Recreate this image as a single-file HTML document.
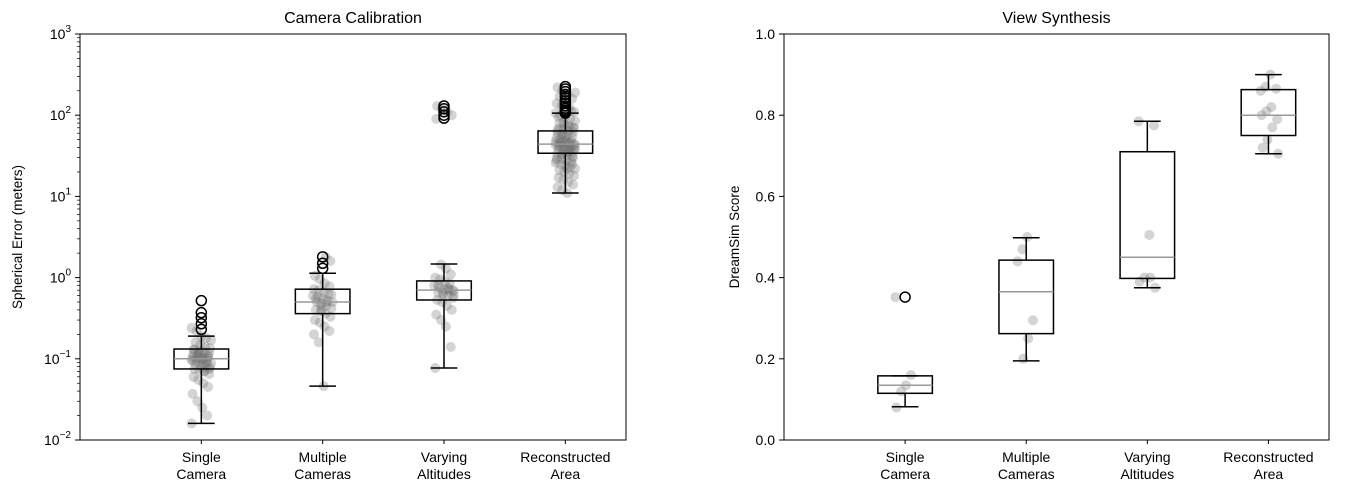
<!DOCTYPE html>
<html><head><meta charset="utf-8">
<style>
html,body{margin:0;padding:0;background:#fff;}
svg{display:block;font-family:"Liberation Sans","DejaVu Sans",sans-serif;}
</style></head>
<body>
<svg id="chart" width="1345" height="498" viewBox="0 0 1345 498" xmlns="http://www.w3.org/2000/svg"></svg>
<script>
const categories = ["Single|Camera","Multiple|Cameras","Varying|Altitudes","Reconstructed|Area"];
// Camera Calibration: [whiskerLow, q1, median, q3, whiskerHigh]
const calibStats = [[0.016,0.075,0.10,0.132,0.19],[0.046,0.36,0.50,0.72,1.13],[0.077,0.53,0.70,0.91,1.47],[11,34,44,64,106]];
const calibOutliers = [[0.52,0.37,0.32,0.27,0.23],[1.8,1.5,1.3],[130,120,110,100,92],[225,210,195,180,165,150,140,130,122,115,110,106]];
const calibPoints = [
 [0.016,0.02,0.025,0.03,0.037,0.045,0.05,0.055,0.06,0.065,0.07,0.072,0.075,0.078,0.08,0.082,0.085,0.088,0.09,0.092,0.095,0.097,0.1,0.1,0.102,0.105,0.108,0.11,0.112,0.115,0.118,0.12,0.125,0.13,0.135,0.14,0.15,0.16,0.17,0.18,0.19,0.22,0.24,0.09,0.1,0.11,0.095,0.105,0.085,0.12,0.13,0.075,0.07,0.115],
 [0.046,0.16,0.2,0.22,0.25,0.28,0.3,0.33,0.36,0.38,0.4,0.42,0.45,0.48,0.5,0.5,0.52,0.55,0.58,0.6,0.63,0.66,0.7,0.72,0.78,0.85,0.95,1.05,1.6,1.8,0.45,0.55,0.62,0.5,0.4],
 [0.077,0.14,0.25,0.3,0.35,0.4,0.45,0.5,0.53,0.56,0.6,0.62,0.65,0.68,0.7,0.72,0.75,0.8,0.85,0.9,0.95,1.0,1.1,1.3,1.45,90,100,110,120,130,0.7,0.75,0.65,0.8,0.6,0.72],
 [11,12,13,14,15,16,17,18,19,20,21,22,23,24,25,26,27,28,29,30,31,32,33,34,35,36,37,38,39,40,41,42,43,44,45,46,47,48,49,50,52,54,56,58,60,62,64,66,68,70,72,76,80,85,90,95,100,106,112,120,130,140,160,180,200,220,30,35,40,42,44,46,48,50,38,36,55,45,43,41,39,33,28,25,22,60,65,70,75,80,95,110,125,150,170,190]
];
// View Synthesis
const synthStats = [[0.082,0.115,0.135,0.158,0.158],[0.195,0.262,0.365,0.443,0.498],[0.375,0.398,0.45,0.71,0.785],[0.705,0.75,0.80,0.863,0.90]];
const synthOutliers = [[0.352],[],[],[]];
const synthPoints = [[0.352,0.16,0.135,0.12,0.08],[0.5,0.47,0.44,0.295,0.25,0.2],[0.785,0.775,0.505,0.40,0.39,0.375,0.40],[0.90,0.87,0.86,0.865,0.82,0.81,0.80,0.79,0.77,0.74,0.72,0.705]];
const logTicks = [-2,-1,0,1,2,3];
const linTicks = [0,0.2,0.4,0.6,0.8,1.0];

const NS="http://www.w3.org/2000/svg";
const svg=document.getElementById('chart');
function mk(tag,attrs,parent){const e=document.createElementNS(NS,tag);for(const k in attrs)e.setAttribute(k,attrs[k]);(parent||svg).appendChild(e);return e;}

function drawPanel(p){
  const g=mk('g',{});
  
  
  const L=p.x0,R=p.x1,T=34,B=440;
  const xs=v=>L+(v/4.5)*(R-L);
  const ys=p.ys;
  const ux=(R-L)/4.5;
  p.points.forEach((arr,ci)=>{
    arr.forEach((v,i)=>{
      const off=(((i*37+ci*11)%21)-10)/10*0.08;
      const c=mk('circle',{cx:xs(ci+1+off),cy:ys(v),r:5,fill:'#707070','fill-opacity':0.3},g);
      
      
    });
  });
  p.stats.forEach((s,ci)=>{
    const cx=xs(ci+1),hw=0.225*ux,cw=0.11*ux;
    const bg=mk('g',{stroke:'#000','stroke-width':1.5,fill:'none'},g);
    
    
    mk('rect',{x:cx-hw,y:ys(s[3]),width:2*hw,height:ys(s[1])-ys(s[3])},bg);
    mk('line',{x1:cx,x2:cx,y1:ys(s[1]),y2:ys(s[0])},bg);
    mk('line',{x1:cx,x2:cx,y1:ys(s[3]),y2:ys(s[4])},bg);
    mk('line',{x1:cx-cw,x2:cx+cw,y1:ys(s[0]),y2:ys(s[0])},bg);
    mk('line',{x1:cx-cw,x2:cx+cw,y1:ys(s[4]),y2:ys(s[4])},bg);
    mk('line',{x1:cx-hw,x2:cx+hw,y1:ys(s[2]),y2:ys(s[2]),stroke:'#999'},bg);
    p.outliers[ci].forEach(v=>{
      const o=mk('circle',{cx:cx,cy:ys(v),r:5},bg);
      
      
    });
  });
  const fr=mk('rect',{x:L,y:T,width:R-L,height:B-T,fill:'none',stroke:'#000','stroke-width':1},g);
  
  
  categories.forEach((c,ci)=>{
    const cx=xs(ci+1);
    mk('line',{x1:cx,x2:cx,y1:B,y2:B+4,stroke:'#000'},g);
    const parts=c.split('|');
    const t=mk('text',{x:cx,y:B+22,'text-anchor':'middle','font-size':14},g);
    
    
    mk('tspan',{x:cx,dy:0},t).textContent=parts[0];
    mk('tspan',{x:cx,dy:17},t).textContent=parts[1];
  });
  p.yticks(g,L);
  const tt=mk('text',{x:(L+R)/2,y:23,'text-anchor':'middle','font-size':16},g);
  tt.textContent=p.title;
  
  
  const yl=mk('text',{x:0,y:0,transform:`translate(${p.ylx},237) rotate(-90)`,'text-anchor':'middle','font-size':13.5},g);
  yl.textContent=p.ylabel;
  
  
}

const ysLog=v=>440-(Math.log10(v)+2)*81.2;
drawPanel({name:'camera-calibration-panel',x0:80,x1:626,ys:ysLog,stats:calibStats,outliers:calibOutliers,points:calibPoints,
 title:'Camera Calibration',ylabel:'Spherical Error (meters)',ylx:22,
 yticks:(g,L)=>{
  logTicks.forEach(e=>{
    const y=ysLog(Math.pow(10,e));
    mk('line',{x1:L-5,x2:L,y1:y,y2:y,stroke:'#000'},g);
    const t=mk('text',{x:L-9,y:y+5,'text-anchor':'end','font-size':14},g);
    
    
    t.appendChild(document.createTextNode('10'));
    const s=mk('tspan',{dy:-7,'font-size':10},t);s.textContent=(e<0?'\u2212':'')+Math.abs(e);
    if(e<3){for(let k=2;k<10;k++){const yy=ysLog(k*Math.pow(10,e));mk('line',{x1:L-3,x2:L,y1:yy,y2:yy,stroke:'#000','stroke-width':0.7},g);}}
  });
 }});
const ysLin=v=>440-v*406;
drawPanel({name:'view-synthesis-panel',x0:784,x1:1329,ys:ysLin,stats:synthStats,outliers:synthOutliers,points:synthPoints,
 title:'View Synthesis',ylabel:'DreamSim Score',ylx:739,
 yticks:(g,L)=>{
  linTicks.forEach(v=>{
    const y=ysLin(v);
    mk('line',{x1:L-5,x2:L,y1:y,y2:y,stroke:'#000'},g);
    const t=mk('text',{x:L-9,y:y+5,'text-anchor':'end','font-size':14},g);
    t.textContent=v.toFixed(1);
    
    
  });
 }});
</script>
</body></html>
